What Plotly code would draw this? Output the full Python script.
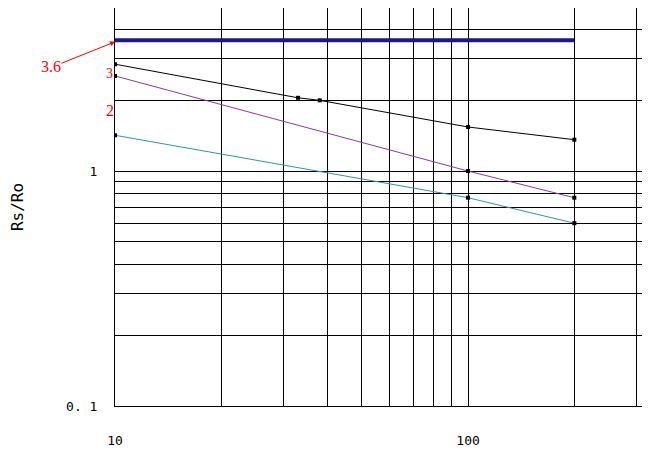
import plotly.graph_objects as go

x_pts = [10, 100, 200]
x_black = [10, 33, 38, 100, 200]
y_black = [2.85, 2.05, 2.0, 1.54, 1.36]
y_purple = [2.54, 1.0, 0.77]
y_teal = [1.42, 0.77, 0.6]
x_blue = [10, 200]
y_blue = [3.6, 3.6]

fig = go.Figure()
fig.add_trace(go.Scatter(x=x_blue, y=y_blue, mode="lines", line=dict(color="#1a1a8c", width=4)))
fig.add_trace(go.Scatter(x=x_black, y=y_black, mode="lines+markers", line=dict(color="black", width=1),
                         marker=dict(symbol="square", size=4, color="black")))
fig.add_trace(go.Scatter(x=x_pts, y=y_purple, mode="lines+markers", line=dict(color="#8b3a9c", width=1),
                         marker=dict(symbol="square", size=4, color="black")))
fig.add_trace(go.Scatter(x=x_pts, y=y_teal, mode="lines+markers", line=dict(color="#2a9a9a", width=1),
                         marker=dict(symbol="square", size=4, color="black")))

grid = dict(showgrid=True, gridcolor="black", gridwidth=1, automargin=False,
            showline=True, linecolor="black", linewidth=1, mirror=True,
            zeroline=False, ticks="",
            minor=dict(showgrid=True, gridcolor="black", gridwidth=1, dtick="D1"))
fig.update_xaxes(type="log", range=[1, 2.538], tickvals=[10, 100], ticktext=["10", "100"],
                 ticklabelstandoff=22, **grid)
fig.update_yaxes(type="log", range=[-1, 0.694], tickvals=[0.1, 1], ticktext=["0. 1", "1"],
                 ticklabelstandoff=14,
                 title=dict(text="Rs/Ro", standoff=40), **grid)

fig.add_annotation(x=-0.14, y=0.88, xref="paper", yref="paper", text="3.6", showarrow=False,
                   font=dict(color="red", size=16, family="Liberation Serif"), xanchor="left")
fig.add_annotation(x=-0.02, y=0.86, xref="paper", yref="paper", text="3", showarrow=False,
                   font=dict(color="red", size=14, family="Liberation Serif"))
fig.add_annotation(x=-0.02, y=0.77, xref="paper", yref="paper", text="2", showarrow=False,
                   font=dict(color="red", size=16, family="Liberation Serif"))
fig.add_annotation(x=0.0, y=0.915, ax=-55, ay=22, xref="paper", yref="paper",
                   text="", showarrow=True, arrowhead=2, arrowcolor="red", arrowwidth=1)

fig.update_layout(width=650, height=454, margin=dict(l=107, r=0, t=0, b=56),
                  plot_bgcolor="white", paper_bgcolor="white", showlegend=False,
                  font=dict(family="DejaVu Sans Mono", size=13, color="black"))
fig.write_html("out.html")
